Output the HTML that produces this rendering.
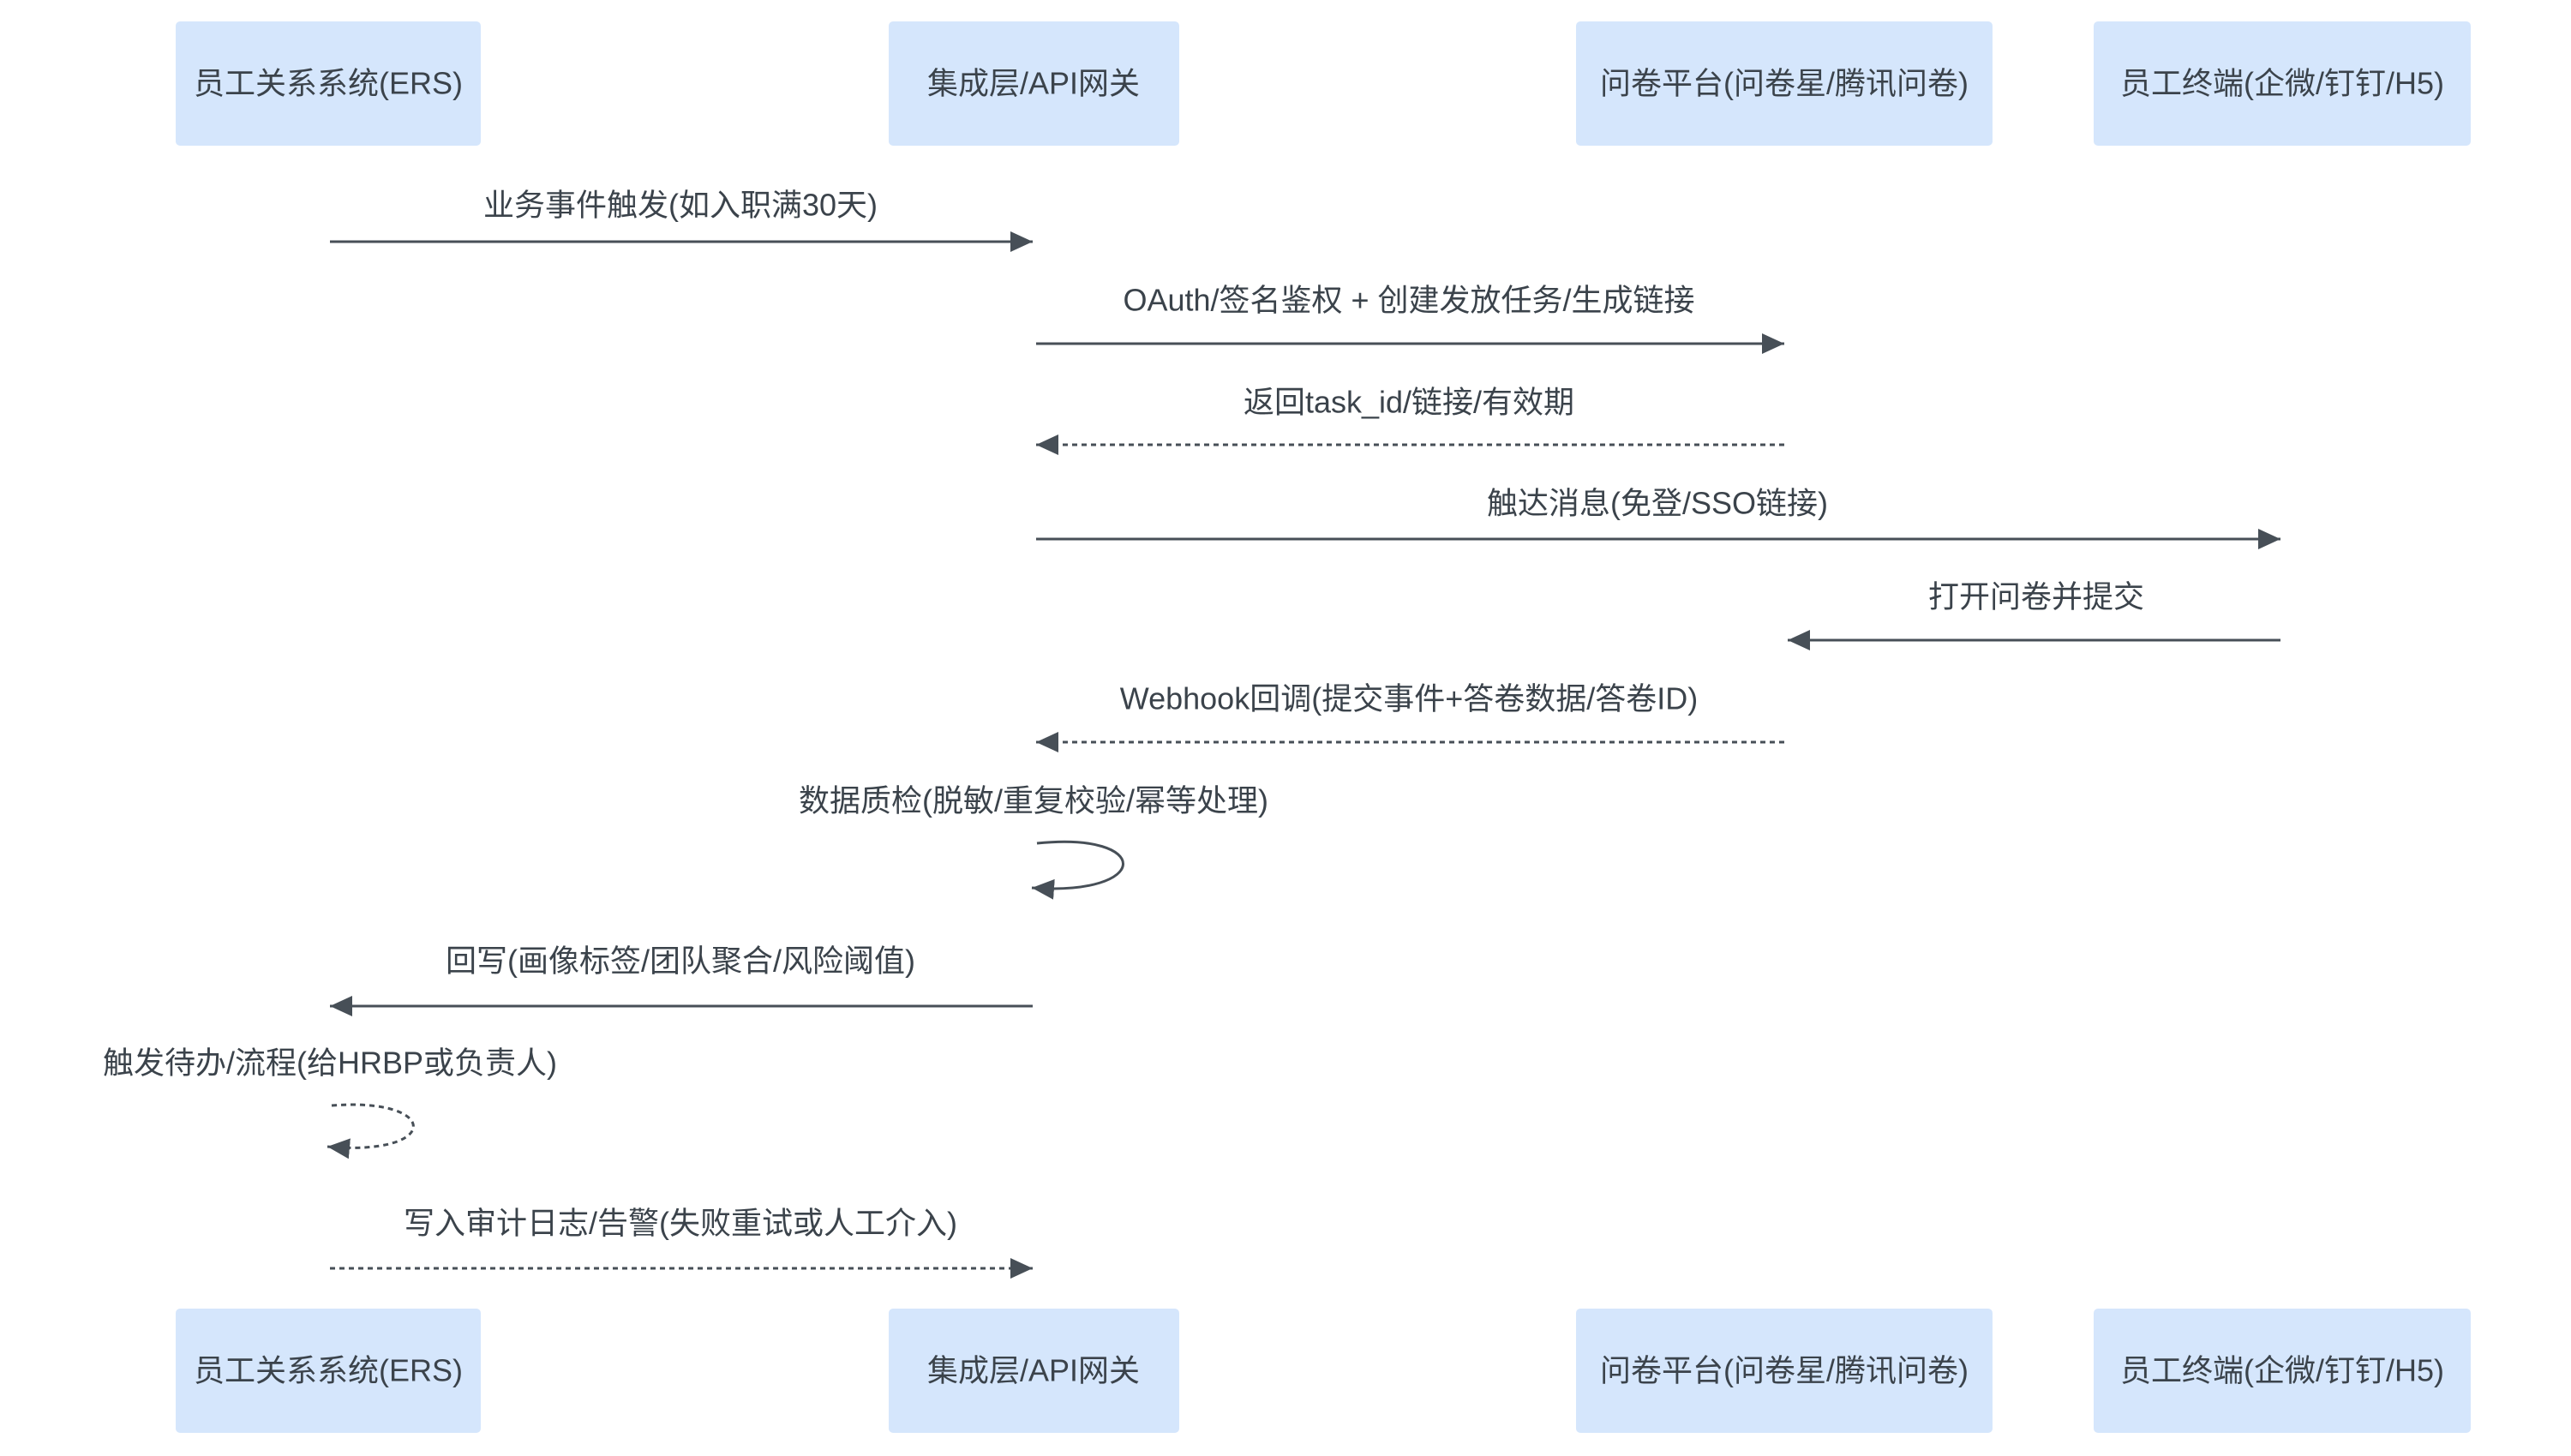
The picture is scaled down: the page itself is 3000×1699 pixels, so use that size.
<!DOCTYPE html>
<html><head><meta charset="utf-8"><style>
html,body{margin:0;padding:0;background:#fff;}
svg{display:block;}
text{font-family:"Liberation Sans","Noto Sans CJK SC",sans-serif;fill:#3b434b;font-size:36px;}
</style></head><body>
<svg width="3000" height="1699" viewBox="0 0 3000 1699" xmlns="http://www.w3.org/2000/svg">
<defs>
<marker id="ah" markerWidth="26" markerHeight="24" refX="26" refY="12" orient="auto" markerUnits="userSpaceOnUse">
<path d="M0,0 L26,12 L0,24 z" fill="#474f57"/>
</marker>
</defs>
<g fill="#d5e6fc">
<rect x="205" y="25" width="356" height="145" rx="5"/>
<rect x="1037" y="25" width="339" height="145" rx="5"/>
<rect x="1839" y="25" width="486" height="145" rx="5"/>
<rect x="2443" y="25" width="440" height="145" rx="5"/>
<rect x="205" y="1527" width="356" height="145" rx="5"/>
<rect x="1037" y="1527" width="339" height="145" rx="5"/>
<rect x="1839" y="1527" width="486" height="145" rx="5"/>
<rect x="2443" y="1527" width="440" height="145" rx="5"/>
</g>
<g text-anchor="middle" dominant-baseline="central">
<text x="383" y="97">员工关系系统(ERS)</text>
<text x="1206" y="97">集成层/API网关</text>
<text x="2082" y="97">问卷平台(问卷星/腾讯问卷)</text>
<text x="2663" y="97">员工终端(企微/钉钉/H5)</text>
<text x="383" y="1599">员工关系系统(ERS)</text>
<text x="1206" y="1599">集成层/API网关</text>
<text x="2082" y="1599">问卷平台(问卷星/腾讯问卷)</text>
<text x="2663" y="1599">员工终端(企微/钉钉/H5)</text>

<text x="794" y="239">业务事件触发(如入职满30天)</text>
<text x="1644" y="350">OAuth/签名鉴权 + 创建发放任务/生成链接</text>
<text x="1644" y="469">返回task_id/链接/有效期</text>
<text x="1934" y="587">触达消息(免登/SSO链接)</text>
<text x="2376" y="696">打开问卷并提交</text>
<text x="1644" y="815">Webhook回调(提交事件+答卷数据/答卷ID)</text>
<text x="1206" y="934">数据质检(脱敏/重复校验/幂等处理)</text>
<text x="794" y="1121">回写(画像标签/团队聚合/风险阈值)</text>
<text x="385" y="1240">触发待办/流程(给HRBP或负责人)</text>
<text x="794" y="1427">写入审计日志/告警(失败重试或人工介入)</text>
</g>
<g stroke="#474f57" stroke-width="3" fill="none" marker-end="url(#ah)">
<line x1="385" y1="282" x2="1205" y2="282"/>
<line x1="1209" y1="401" x2="2082" y2="401"/>
<line x1="2082" y1="519" x2="1209" y2="519" stroke-dasharray="6 5"/>
<line x1="1209" y1="629" x2="2661" y2="629"/>
<line x1="2661" y1="747" x2="2086" y2="747"/>
<line x1="2082" y1="866" x2="1209" y2="866" stroke-dasharray="6 5"/>
<path d="M1210,984 C1345,970 1345,1046 1204,1036"/>
<line x1="1205" y1="1174" x2="385" y2="1174"/>
<path d="M387,1290 C515,1280 515,1350 382,1338" stroke-dasharray="6 5"/>
<line x1="385" y1="1480" x2="1205" y2="1480" stroke-dasharray="6 5"/>
</g>
</svg>
</body></html>
